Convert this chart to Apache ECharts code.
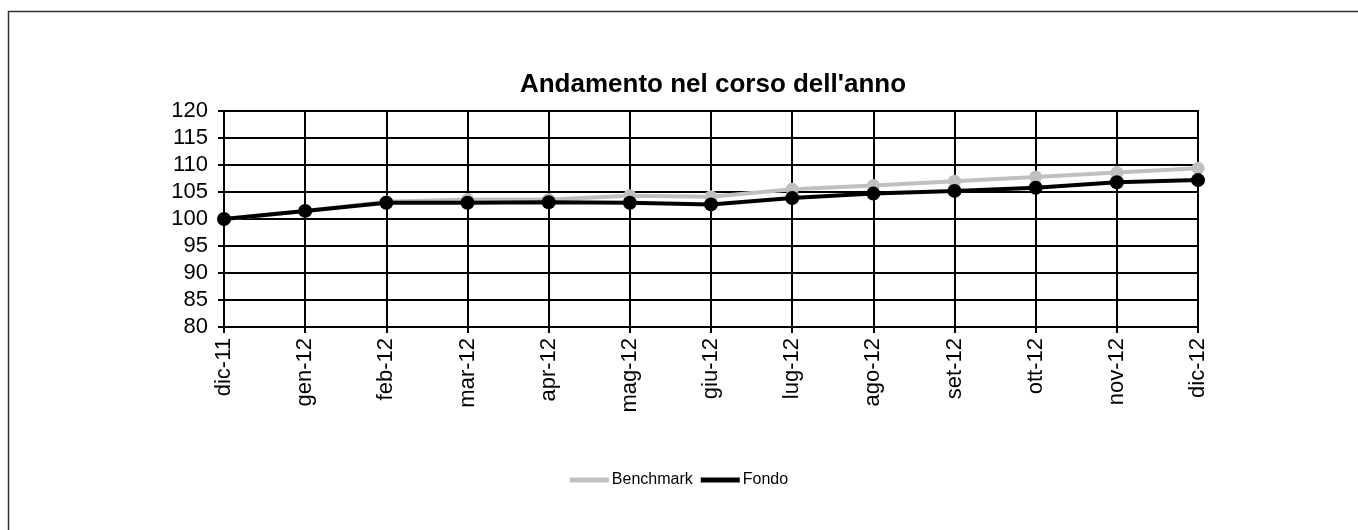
<!DOCTYPE html>
<html>
<head>
<meta charset="utf-8">
<script src="https://cdn.jsdelivr.net/npm/echarts@6/dist/echarts.min.js"></script>
<style>
html,body{margin:0;padding:0;background:#fff;}
#c{width:1358px;height:530px;}
</style>
</head>
<body>
<div id="c"></div>
<script>
var categories = ['dic-11','gen-12','feb-12','mar-12','apr-12','mag-12','giu-12','lug-12','ago-12','set-12','ott-12','nov-12','dic-12'];
var benchmark = [100, 101.5, 103.2, 103.6, 103.6, 104.3, 104.1, 105.5, 106.2, 107.0, 107.8, 108.6, 109.4];
var fondo = [100, 101.5, 103.0, 103.0, 103.1, 103.0, 102.7, 103.9, 104.7, 105.2, 105.8, 106.8, 107.2];
var yTicks = {min: 80, max: 120, interval: 5};

var chart = echarts.init(document.getElementById('c'));
var font = 'Liberation Sans, Arial, sans-serif';
chart.setOption({
  animation: false,
  backgroundColor: '#fff',
  textStyle: {fontFamily: font},
  graphic: [{
    type: 'rect',
    shape: {x: 8.5, y: 11.5, width: 1400, height: 600},
    style: {fill: 'none', stroke: '#333', lineWidth: 1.5},
    silent: true
  }],
  title: {
    text: "Andamento nel corso dell'anno",
    left: 708,
    textAlign: 'center',
    top: 67,
    textStyle: {fontFamily: font, fontSize: 26, fontWeight: 'bold', color: '#000'}
  },
  legend: {
    top: 467,
    left: 'center',
    itemWidth: 39,
    itemHeight: 5,
    itemGap: 8,
    data: [{name: 'Benchmark', icon: 'rect'}, {name: 'Fondo', icon: 'rect'}],
    textStyle: {fontFamily: font, fontSize: 16, color: '#000', padding: [0, 0, 0, -2]}
  },
  grid: {
    left: 224, right: 160, top: 111, bottom: 203,
    show: true, borderColor: '#000', borderWidth: 2, containLabel: false
  },
  xAxis: {
    type: 'category',
    data: categories,
    boundaryGap: false,
    axisLine: {lineStyle: {color: '#000', width: 2}},
    axisTick: {show: true, length: 6, lineStyle: {color: '#000', width: 2}},
    splitLine: {show: true, lineStyle: {color: '#000', width: 2}},
    axisLabel: {rotate: 90, fontSize: 22, color: '#000', margin: 11, fontFamily: font, interval: 0}
  },
  yAxis: {
    type: 'value',
    min: yTicks.min, max: yTicks.max, interval: yTicks.interval,
    axisLine: {show: true, lineStyle: {color: '#000', width: 2}},
    axisTick: {show: true, length: 6, lineStyle: {color: '#000', width: 2}},
    splitLine: {show: true, lineStyle: {color: '#000', width: 2}},
    axisLabel: {fontSize: 22, color: '#000', margin: 16, fontFamily: font}
  },
  series: [
    {
      name: 'Benchmark', type: 'line', data: benchmark,
      symbol: 'circle', symbolSize: 13,
      lineStyle: {color: '#c0c0c0', width: 4},
      itemStyle: {color: '#c0c0c0'},
      z: 3
    },
    {
      name: 'Fondo', type: 'line', data: fondo,
      symbol: 'circle', symbolSize: 14,
      lineStyle: {color: '#000', width: 4},
      itemStyle: {color: '#000'},
      z: 4
    }
  ]
});
</script>
</body>
</html>
